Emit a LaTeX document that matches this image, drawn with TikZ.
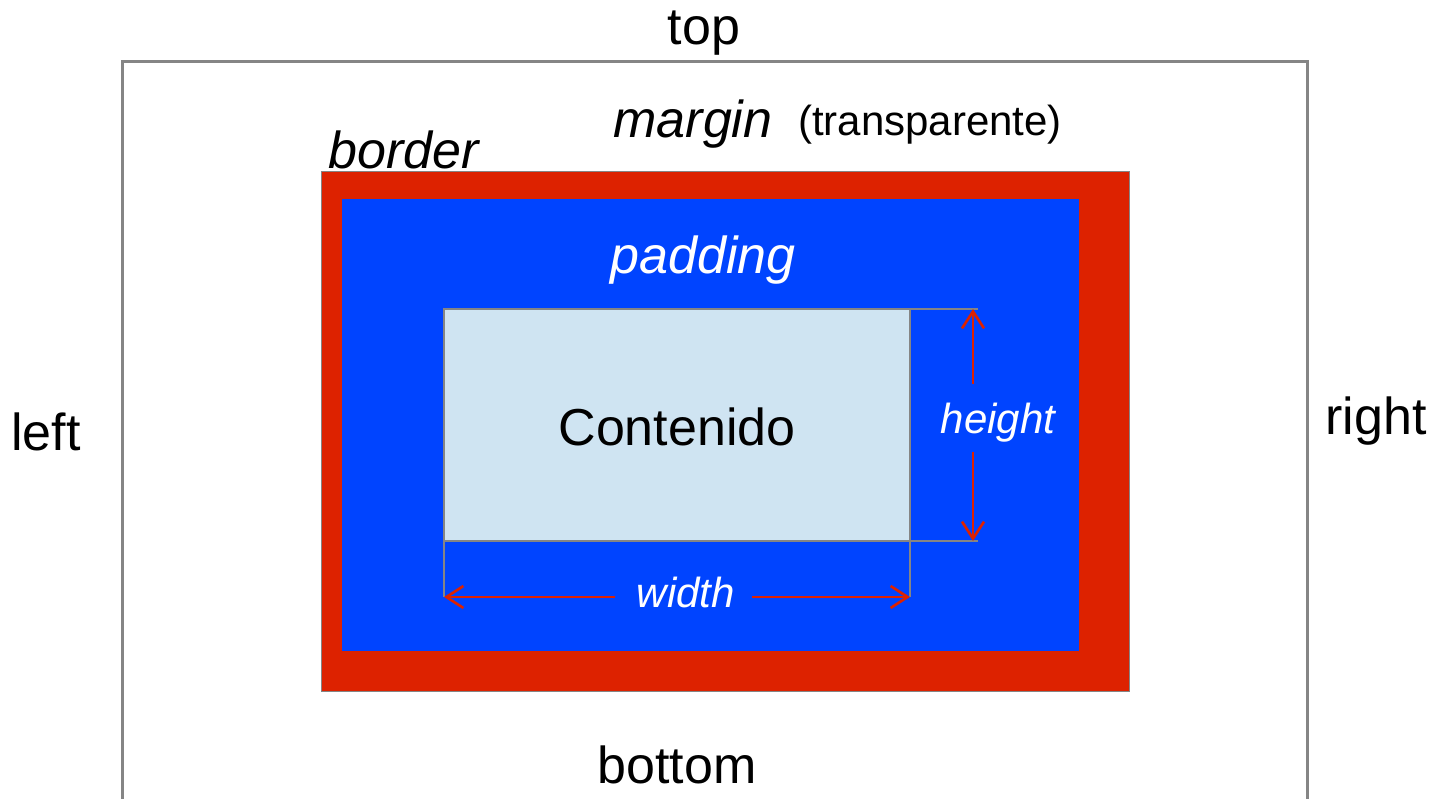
\documentclass[tikz,border=0pt]{standalone}
\usepackage{fontspec}
\setmainfont{Liberation Sans}
\usetikzlibrary{arrows.meta}
\definecolor{borderred}{HTML}{DD2200}
\definecolor{padblue}{HTML}{0044FF}
\definecolor{contentblue}{HTML}{CFE4F2}
\definecolor{linegrey}{HTML}{858585}
\tikzset{
  big/.style={font=\fontsize{52}{60}\selectfont, inner sep=0pt, anchor=base},
  small/.style={font=\fontsize{42}{50}\selectfont, inner sep=0pt, anchor=base},
  dimarrow/.style={draw=borderred, line width=2.6pt, -{Straight Barb[length=17pt,width=22pt,line width=2.6pt]}},
  extline/.style={draw=linegrey, line width=1.6pt},
}
\begin{document}
\begin{tikzpicture}[x=1pt,y=-1pt]
\useasboundingbox (0,0) rectangle (1441,799);
% margin box
\draw[linegrey, line width=3pt] (122,799) -- (122,62) -- (1307,62) -- (1307,799);
% border
\filldraw[fill=borderred, draw=linegrey, line width=1pt] (321,172) rectangle (1129,691);
% padding
\fill[padblue] (342,199) rectangle (1079,651);
% content
\node[draw=linegrey, line width=1.5pt, outer sep=0pt, fill=contentblue, minimum width=466pt, minimum height=232pt, inner sep=0pt, anchor=north west] (content) at (444,309) {};
% extension lines
\coordinate (htop) at (978,309);
\coordinate (hbot) at (978,541);
\coordinate (wl) at (444,597);
\coordinate (wr) at (910,597);
\draw[extline] (content.north east) -- (htop);
\draw[extline] (content.south east) -- (hbot);
\draw[extline] (content.south west) -- (wl);
\draw[extline] (content.south east) -- (wr);
% labels
\node[big] (top) at (704,45) {top};
\node[big] (left) at (46,451) {left};
\node[big] (right) at (1376,435) {right};
\node[big] (bottom) at (677,783) {bottom};
\node[big, font=\fontsize{52}{60}\selectfont\itshape] (margin) at (693,138) {margin};
\node[small] (transp) at (930,136) {(transparente)};
\node[big, font=\fontsize{52}{60}\selectfont\itshape] (border) at (404,169) {border};
\node[big, font=\fontsize{52}{60}\selectfont\itshape, text=white] (padding) at (703,274) {padding};
\node[big] (contenido) at (677,446) {Contenido};
\node[small, font=\fontsize{42}{50}\selectfont\itshape, text=white] (height) at (998,434) {height};
\node[small, font=\fontsize{42}{50}\selectfont\itshape, text=white] (width) at (686,607) {width};
% dimension arrows
\coordinate (hu) at (973,384);
\coordinate (hd) at (973,452);
\coordinate (hut) at (973,309);
\coordinate (hdt) at (973,541);
\draw[dimarrow] (hu) -- (hut);
\draw[dimarrow] (hd) -- (hdt);
\coordinate (wa) at (615,597);
\coordinate (wb) at (752,597);
\draw[dimarrow] (wa) -- (wl);
\draw[dimarrow] (wb) -- (wr);
\end{tikzpicture}
\end{document}
